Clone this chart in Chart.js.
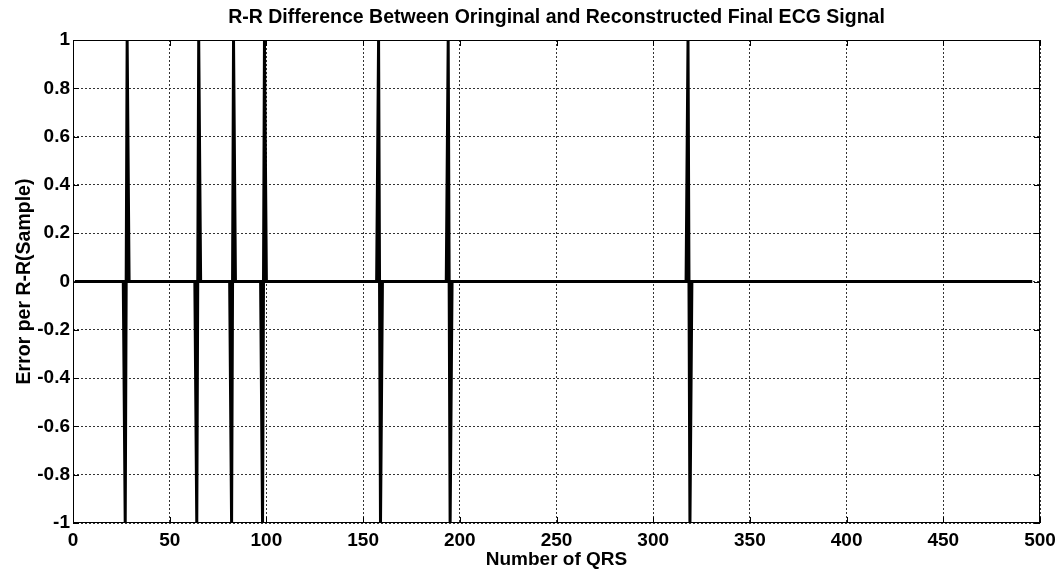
<!DOCTYPE html>
<html>
<head>
<meta charset="utf-8">
<title>R-R Difference</title>
<script src="https://cdn.jsdelivr.net/npm/chart.js@4.4.0/dist/chart.umd.min.js"></script>
<style>
  html, body { margin: 0; padding: 0; background: #fff; }
  #wrap { width: 1062px; height: 577px; }
</style>
</head>
<body>
<div id="wrap"><canvas id="rrChart"></canvas></div>
<script>
// Number of QRS complexes and the places where the R-R error is not zero
const qrsCount = 496;
const spikeIndex = [27, 28, 64, 65, 82, 83, 98, 99, 158, 159, 194, 195, 318, 319];
const spikeError = [-1, 1, -1, 1, -1, 1, -1, 1, 1, -1, 1, -1, 1, -1];

const xTicks = [0, 50, 100, 150, 200, 250, 300, 350, 400, 450, 500];
const yTicks = [-1, -0.8, -0.6, -0.4, -0.2, 0, 0.2, 0.4, 0.6, 0.8, 1];

const FONT = '"Liberation Sans", Arial, Helvetica, sans-serif';

// every other QRS has zero error
const points = [];
for (let i = 1; i <= qrsCount; i++) {
    const k = spikeIndex.indexOf(i);
    points.push({ x: i, y: k >= 0 ? spikeError[k] : 0 });
}

// MATLAB style box with inward tick marks
const boxPlugin = {
    id: 'matlabBox',
    afterDraw(chart) {
        const { ctx, chartArea: a, scales: { x, y } } = chart;
        ctx.save();
        ctx.strokeStyle = '#000';
        ctx.lineWidth = 1;
        ctx.strokeRect(a.left + 0.5, a.top + 0.5, a.right - a.left - 1, a.bottom - a.top - 1);
        ctx.beginPath();
        xTicks.forEach(v => {
            const px = Math.round(x.getPixelForValue(v)) + 0.5;
            ctx.moveTo(px, a.bottom); ctx.lineTo(px, a.bottom - 6);
            ctx.moveTo(px, a.top); ctx.lineTo(px, a.top + 6);
        });
        yTicks.forEach(v => {
            const py = Math.round(y.getPixelForValue(v)) + 0.5;
            ctx.moveTo(a.left, py); ctx.lineTo(a.left + 6, py);
            ctx.moveTo(a.right, py); ctx.lineTo(a.right - 6, py);
        });
        ctx.stroke();
        ctx.restore();
    }
};

new Chart(document.getElementById('rrChart'), {
    type: 'line',
    data: {
        datasets: [{
            label: 'R-R error',
            data: points,
            borderColor: '#000',
            borderWidth: 3,
            pointRadius: 0,
            tension: 0,
            fill: false
        }]
    },
    options: {
        responsive: true,
        maintainAspectRatio: false,
        animation: false,
        layout: { padding: { left: 0, right: 22, top: 0, bottom: 0 } },
        plugins: {
            legend: { display: false },
            tooltip: { enabled: false },
            title: {
                display: true,
                fullSize: false,
                text: 'R-R Difference Between Oringinal and Reconstructed Final ECG Signal',
                color: '#000',
                font: { family: FONT, size: 19.5, weight: 'bold' },
                padding: { top: 6.3, bottom: 10.3 }
            }
        },
        scales: {
            x: {
                type: 'linear',
                min: 0,
                max: 500,
                afterFit: s => { s.height = 54; },
                afterBuildTicks: s => { s.ticks = xTicks.map(v => ({ value: v })); },
                ticks: {
                    color: '#000',
                    padding: 6,
                    maxRotation: 0,
                    font: { family: FONT, size: 19, weight: 'bold' },
                    callback: v => String(v)
                },
                grid: { color: '#333', lineWidth: 1, drawTicks: false },
                border: { display: false, dash: [2, 2] },
                title: {
                    display: true,
                    text: 'Number of QRS',
                    color: '#000',
                    font: { family: FONT, size: 19, weight: 'bold' },
                    padding: { top: 0, bottom: 5.6 }
                }
            },
            y: {
                min: -1,
                max: 1,
                afterFit: s => { s.width = 73; },
                afterBuildTicks: s => { s.ticks = yTicks.map(v => ({ value: v })); },
                ticks: {
                    color: '#000',
                    padding: 3,
                    font: { family: FONT, size: 19, weight: 'bold' },
                    callback: v => String(v)
                },
                grid: { color: '#333', lineWidth: 1, drawTicks: false },
                border: { display: false, dash: [2, 2] },
                title: {
                    display: true,
                    text: 'Error per R-R(Sample)',
                    color: '#000',
                    font: { family: FONT, size: 19.5, weight: 'bold' },
                    padding: { top: 13.4, bottom: 0 }
                }
            }
        }
    },
    plugins: [boxPlugin]
});
</script>
</body>
</html>
